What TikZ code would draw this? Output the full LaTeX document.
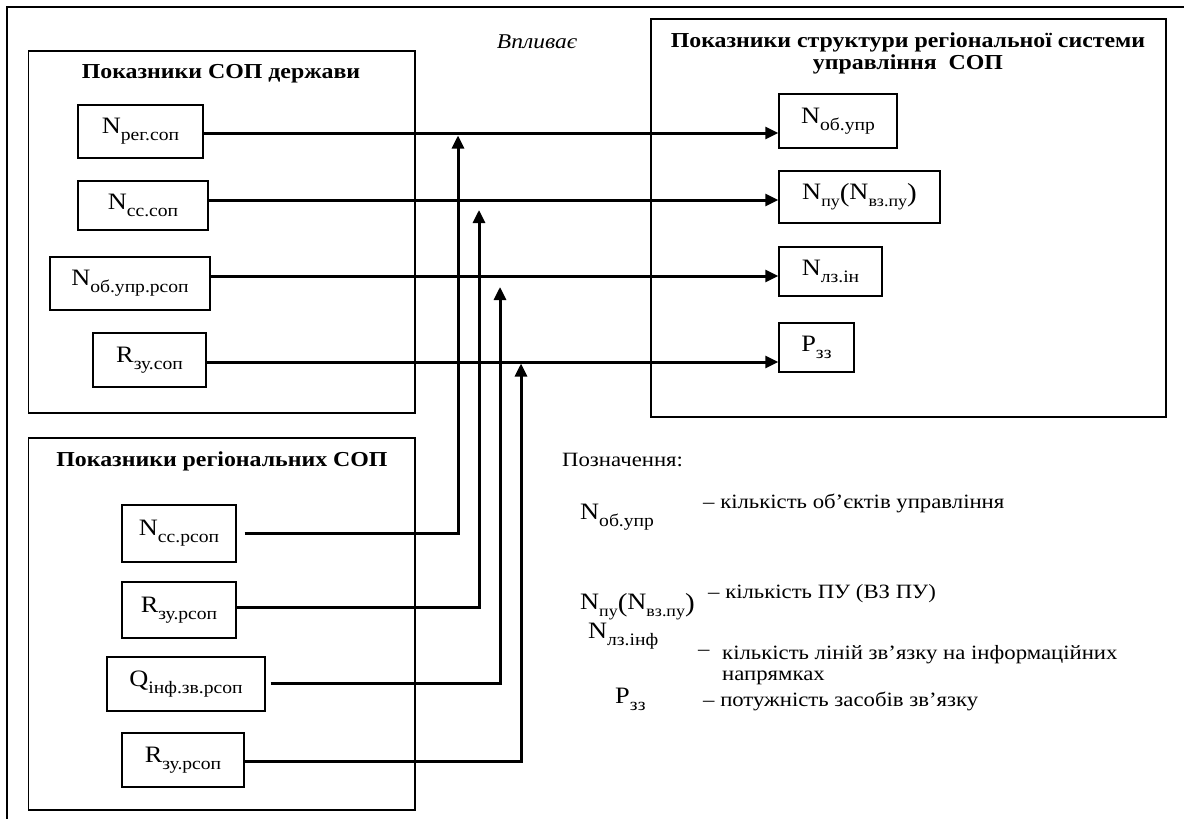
\documentclass[tikz,border=0pt]{standalone}
\usepackage{fontspec}
\setmainfont[FakeStretch=1.12]{Liberation Serif}
\usetikzlibrary{arrows.meta}
\newcommand{\fsz}[2]{\fontsize{#1}{#2}\selectfont}
\newcommand{\sbs}[1]{\raisebox{-0.3em}{\fsz{17.5}{17.5}#1}}
\newcommand{\sbt}[1]{\raisebox{-0.3em}{\fsz{16}{16}#1}}
\newcommand{\bigpar}[1]{{\fsz{26}{26}\raisebox{-2pt}{#1}}}
\begin{document}
\begin{tikzpicture}[x=1pt,y=-1pt,
  outer/.style={line width=2.2pt},
  frame/.style={draw, line width=1.4pt, inner sep=0pt},
  item/.style={draw, line width=1.4pt, inner sep=0pt, font=\fsz{23.5}{26}},
  ttl/.style={font=\bfseries\fsz{21.3}{22}, align=center, inner sep=0pt},
  txt/.style={font=\fsz{20.3}{21}, inner sep=0pt, anchor=west, align=left},
  sym/.style={font=\fsz{23.5}{26}, inner sep=0pt, anchor=west},
  conn/.style={line width=3pt},
  arr/.style={line width=3pt, -{Triangle[length=13pt,width=12pt]}},
]
\useasboundingbox (0,0) rectangle (1184,819);
% outer frame (only left and top edges visible)
\draw[outer] (7,819) -- (7,7) -- (1184,7);

% container boxes
\node[frame, minimum width=386.3pt, minimum height=362pt] (boxA) at (221.85,232) {};
\node[frame, minimum width=386.3pt, minimum height=372pt] (boxB) at (221.85,624) {};
\node[frame, minimum width=515pt, minimum height=398pt] (boxC) at (908.5,218) {};

% titles
\node[ttl] (titA) at (221,74) {Показники СОП держави};
\node[ttl] (titB) at (222,461) {Показники регіональних СОП};
\node[ttl] (titC) at (908,53) {Показники структури регіональної системи\\управління~~СОП};
\node[font=\itshape\fsz{21}{22}, inner sep=0pt] (infl) at (537,42) {Впливає};

% state indicators
\node[item, minimum width=125pt, minimum height=53pt] (n1) at (140.5,131.5) {N\sbs{рег.соп}};
\node[item, minimum width=130pt, minimum height=49pt] (n2) at (143,205.5) {N\sbs{сс.соп}};
\node[item, minimum width=160pt, minimum height=53pt] (n3) at (130,283.5) {N\sbs{об.упр.рсоп}};
\node[item, minimum width=113pt, minimum height=54pt] (n4) at (149.5,360) {R\sbs{зу.соп}};

% regional indicators
\node[item, minimum width=114pt, minimum height=57pt] (b1) at (179,533.5) {N\sbs{сс.рсоп}};
\node[item, minimum width=114pt, minimum height=56pt] (b2) at (179,610) {R\sbs{зу.рсоп}};
\node[item, minimum width=158pt, minimum height=54pt] (b3) at (186,684) {Q\sbs{інф.зв.рсоп}};
\node[item, minimum width=122pt, minimum height=54pt] (b4) at (183,760) {R\sbs{зу.рсоп}};

% structure indicators
\node[item, minimum width=118pt, minimum height=54pt] (t1) at (838,121) {N\sbs{об.упр}};
\node[item, minimum width=161pt, minimum height=52pt] (t2) at (859.5,197) {N\sbt{пу}\bigpar{(}N\sbt{вз.пу}\bigpar{)}};
\node[item, minimum width=103pt, minimum height=49pt] (t3) at (830.5,271.5) {N\sbs{лз.ін}};
\node[item, minimum width=75pt, minimum height=49pt] (t4) at (816.5,347.5) {P\sbs{зз}};

% rows of the horizontal connectors
\coordinate (r1) at (0,133);
\coordinate (r2) at (0,200);
\coordinate (r3) at (0,276);
\coordinate (r4) at (0,362);
\coordinate (s1) at (0,533);
\coordinate (s2) at (0,607);
\coordinate (s3) at (0,683);
\coordinate (s4) at (0,761);
% arrow tips of the vertical connectors
\coordinate (e1) at (458,135.5);
\coordinate (e2) at (479,210);
\coordinate (e3) at (500,287);
\coordinate (e4) at (521,363.5);

\draw[arr] (n1.east |- r1) -- (t1.west |- r1);
\draw[arr] (n2.east |- r2) -- (t2.west |- r2);
\draw[arr] (n3.east |- r3) -- (t3.west |- r3);
\draw[arr] (n4.east |- r4) -- (t4.west |- r4);

\draw[arr, shorten <=8pt] (b1.east |- s1) -| (e1);
\draw[arr] (b2.east |- s2) -| (e2);
\draw[arr, shorten <=5pt] (b3.east |- s3) -| (e3);
\draw[arr] (b4.east |- s4) -| (e4);

% legend
\node[txt] (leg) at (562,460) {Позначення:};
\node[sym] (l1s) at (580,517) {N\sbs{об.упр}};
\node[txt] (l1t) at (703,503) {– кількість об’єктів управління};
\node[sym] (l2s) at (580,607) {N\sbt{пу}\bigpar{(}N\sbt{вз.пу}\bigpar{)}};
\node[txt] (l2t) at (708,594) {– кількість ПУ (ВЗ ПУ)};
\node[sym] (l3s) at (588,636) {N\sbs{лз.інф}};
\node[txt] (l3d) at (698,653) {–};
\node[txt, anchor=north west] (l3t) at (722,645) {кількість ліній зв’язку на інформаційних\\напрямках};
\node[sym] (l4s) at (615,699) {P\sbs{зз}};
\node[txt] (l4t) at (703,701) {– потужність засобів зв’язку};
\end{tikzpicture}
\end{document}
